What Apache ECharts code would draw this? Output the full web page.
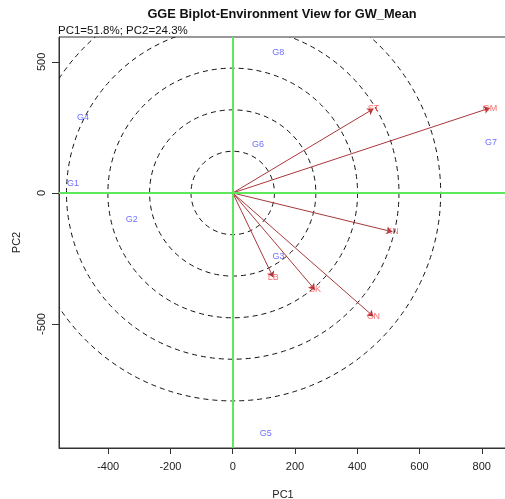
<!DOCTYPE html>
<html>
<head>
<meta charset="utf-8">
<script src="https://cdn.jsdelivr.net/npm/echarts@6/dist/echarts.min.js"></script>
<style>
  html, body { margin: 0; padding: 0; background: #fff; }
  #chart { width: 505px; height: 499px; }
</style>
</head>
<body>
<div id="chart"></div>
<script>
const FONT = '"Liberation Sans", Arial, Helvetica, sans-serif';

// genotypes (blue)
const genoNames = ['G1', 'G2', 'G3', 'G4', 'G5', 'G6', 'G7', 'G8'];
const genoPC1 = [-513, -324, 147, -481, 106, 81, 830, 146];
const genoPC2 = [35, -102, -244, 287, -916, 184, 192, 536];

// environments (red, with vectors)
const envNames = ['ST', 'GM', 'KN', 'LB', 'SK', 'CN'];
const envPC1 = [452, 826, 513, 130, 264, 452];
const envPC2 = [321, 324, -148, -322, -369, -471];

// concentric circle radii, in PC1 units
const circleRadii = [134, 267, 401, 534, 668];

const xTicks = [-400, -200, 0, 200, 400, 600, 800];
const yTicks = [-500, 0, 500];

const chart = echarts.init(document.getElementById('chart'), null, { renderer: 'canvas' });

const labelPoint = (names, xs, ys) => names.map((n, i) => ({ name: n, value: [xs[i], ys[i]] }));

chart.setOption({
    animation: false,
    title: [
        {
            text: 'GGE Biplot-Environment View for GW_Mean',
            left: 277, top: 3, textAlign: 'center',
            textStyle: { fontFamily: FONT, fontSize: 12.8, fontWeight: 'bold', color: '#111' },
        },
        {
            text: 'PC1=51.8%; PC2=24.3%',
            left: 53, top: 20,
            textStyle: { fontFamily: FONT, fontSize: 11.5, fontWeight: 'normal', color: '#111' },
        },
    ],
    grid: {
        left: 59, right: -2, top: 37, bottom: 51,
        outerBoundsMode: 'none',
        show: true, borderColor: '#333', borderWidth: 1,
    },
    xAxis: {
        type: 'value', min: -558, max: 881,
        splitLine: { show: false },
        axisLine: { show: true, onZero: false, lineStyle: { color: '#333' } },
        axisTick: { show: true, length: 6, customValues: xTicks, lineStyle: { color: '#333' } },
        axisLabel: { customValues: xTicks, fontFamily: FONT, fontSize: 11, color: '#222', margin: 13 },
        name: 'PC1', nameLocation: 'middle', nameGap: 41,
        nameTextStyle: { fontFamily: FONT, fontSize: 11, color: '#222' },
    },
    yAxis: {
        type: 'value', min: -973, max: 595,
        splitLine: { show: false },
        axisLine: { show: true, onZero: false, lineStyle: { color: '#333' } },
        axisTick: { show: true, length: 7, customValues: yTicks, lineStyle: { color: '#333' } },
        axisLabel: { customValues: yTicks, rotate: 90, fontFamily: FONT, fontSize: 11, color: '#222', margin: 12 },
        name: 'PC2', nameLocation: 'middle', nameGap: 37,
        nameTextStyle: { fontFamily: FONT, fontSize: 11, color: '#222' },
    },
    series: [
        {
            type: 'custom',
            clip: true,
            z: 1,
            silent: true,
            data: circleRadii.map(r => [r, 0]),
            renderItem(params, api) {
                const c = api.coord([0, 0]);
                const r = api.size([api.value(0), 0])[0];
                return {
                    type: 'circle',
                    shape: { cx: c[0], cy: c[1], r: r },
                    style: { fill: null, stroke: '#111', lineWidth: 1, lineDash: [5, 4] },
                };
            },
        },
        {
            type: 'scatter',
            z: 2,
            symbolSize: 0,
            data: [],
            markLine: {
                silent: true,
                symbol: 'none',
                label: { show: false },
                lineStyle: { color: '#5ee85e', width: 2, type: 'solid' },
                data: [{ xAxis: 0 }, { yAxis: 0 }],
            },
        },
        {
            type: 'lines',
            coordinateSystem: 'cartesian2d',
            z: 3,
            symbol: ['none', 'arrow'],
            symbolSize: 6,
            lineStyle: { color: '#a8373a', width: 1, opacity: 1, curveness: 0 },
            data: envNames.map((n, i) => ({ coords: [[0, 0], [envPC1[i], envPC2[i]]] })),
        },
        {
            type: 'scatter',
            z: 4,
            symbolSize: 0,
            data: labelPoint(envNames, envPC1, envPC2),
            label: {
                show: true, position: 'inside', formatter: '{b}',
                fontFamily: FONT, fontSize: 9, color: '#ff4a4a',
            },
        },
        {
            type: 'scatter',
            z: 4,
            symbolSize: 0,
            data: labelPoint(genoNames, genoPC1, genoPC2),
            label: {
                show: true, position: 'inside', formatter: '{b}',
                fontFamily: FONT, fontSize: 9, color: '#4a4aff',
            },
        },
    ],
});
</script>
</body>
</html>
